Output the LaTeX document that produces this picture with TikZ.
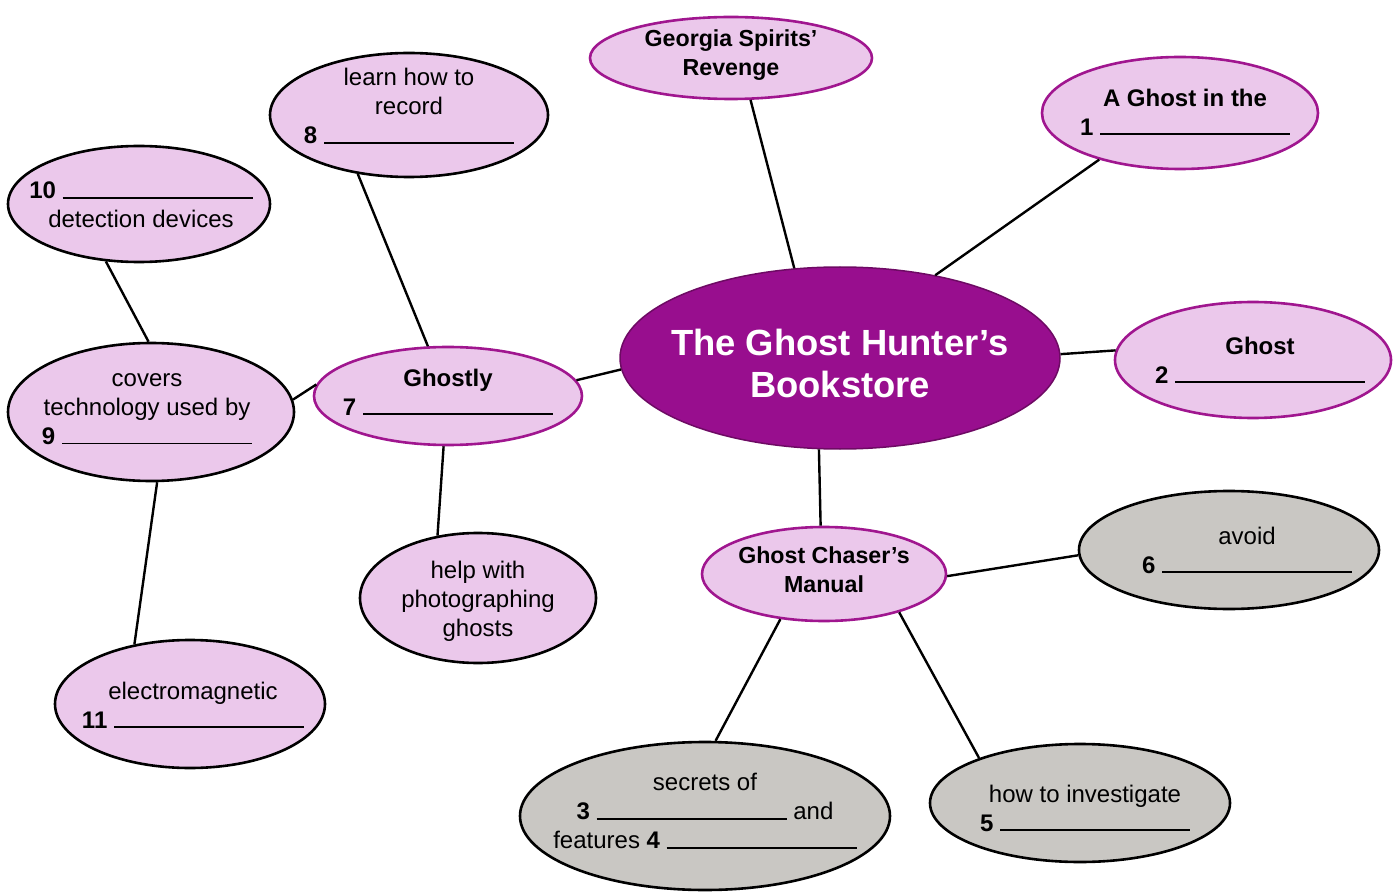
\documentclass[tikz,border=0pt]{standalone}
\usepackage{fontspec}
\setmainfont{Liberation Sans}
\usetikzlibrary{shapes.geometric, positioning}

\definecolor{bubble}{RGB}{235,200,235}
\definecolor{plum}{RGB}{160,22,143}
\definecolor{hubfill}{RGB}{152,14,142}
\definecolor{hubline}{RGB}{110,10,100}
\definecolor{stone}{RGB}{201,199,195}

\newcommand{\blank}{\rule{190pt}{1.8pt}}

\tikzset{
  bub/.style = {draw, ellipse, line width = 2.6pt, fill = bubble, inner sep = 0pt},
  topic/.style = {bub, draw = plum},
  grey/.style = {bub, fill = stone},
  txt/.style = {align = center, inner sep = 0pt, font = \fontsize{24}{29}\selectfont},
  head/.style = {txt, font = \fontsize{23.2}{29}\selectfont\bfseries},
  link/.style = {line width = 2.4pt}
}

\begin{document}
\begin{tikzpicture}[x=1pt, y=-1pt]
    \useasboundingbox (0,0) rectangle (1398,893);

    % centre
    \node[ellipse, draw = hubline, line width = 1.5pt, fill = hubfill, inner sep = 0pt,
      minimum width = 440pt, minimum height = 182pt,
      label = {[align = center, text = white, yshift = -5pt,
        font = \fontsize{36.4}{42}\selectfont\bfseries]center:{The Ghost Hunter’s\\Bookstore}}] (hub) at (840,358) {};

    % book titles
    \node[topic, minimum width = 282pt, minimum height = 82pt,
      label = {[head, yshift = 3pt]center:{Georgia Spirits’\\Revenge}}] (georgia) at (731,58) {};
    \node[topic, minimum width = 276pt, minimum height = 112pt,
      label = {[txt, xshift = 5pt, yshift = 1pt]center:{\textbf{A Ghost in the}\\\textbf{1} \blank}}] (ghostin) at (1180,113) {};
    \node[topic, minimum width = 276pt, minimum height = 116pt,
      label = {[txt, xshift = 7pt]center:{\textbf{Ghost}\\\textbf{2} \blank}}] (ghost) at (1253,360) {};
    \node[topic, minimum width = 268pt, minimum height = 98pt,
      label = {[txt, yshift = 4pt]center:{\textbf{Ghostly}\\\textbf{7} \blank}}] (ghostly) at (448,396) {};
    \node[topic, minimum width = 244pt, minimum height = 94pt,
      label = {[head, yshift = 4pt]center:{Ghost Chaser’s\\Manual}}] (chaser) at (824,574) {};

    % Ghostly branch
    \node[bub, minimum width = 278pt, minimum height = 124pt,
      label = {[txt, yshift = 9pt]center:{learn how to\\record\\\textbf{8} \blank}}] (learn) at (409,115) {};
    \node[bub, minimum width = 286pt, minimum height = 138pt,
      label = {[txt, xshift = -4pt, yshift = 3pt]center:{covers\\technology used by\\\textbf{9} \blank}}] (covers) at (151,412) {};
    \node[bub, minimum width = 262pt, minimum height = 116pt,
      label = {[txt, xshift = 2pt, yshift = -1pt]center:{\textbf{10} \blank\\detection devices}}] (detect) at (139,204) {};
    \node[bub, minimum width = 270pt, minimum height = 128pt,
      label = {[txt, xshift = 3pt, yshift = -1pt]center:{electromagnetic\\\textbf{11} \blank}}] (electro) at (190,704) {};
    \node[bub, minimum width = 236pt, minimum height = 130pt,
      label = {[txt, yshift = -3pt]center:{help with\\photographing\\ghosts}}] (help) at (478,598) {};

    % Manual branch
    \node[grey, minimum width = 300pt, minimum height = 118pt,
      label = {[txt, xshift = 18pt]center:{avoid\\\textbf{6} \blank}}] (avoid) at (1229,550) {};
    \node[grey, minimum width = 370pt, minimum height = 148pt,
      label = {[txt, yshift = 5pt]center:{secrets of\\\textbf{3} \blank{} and\\features \textbf{4} \blank}}] (secrets) at (705,816) {};
    \node[grey, minimum width = 300pt, minimum height = 118pt,
      label = {[txt, xshift = 5pt, yshift = -5pt]center:{how to investigate\\\textbf{5} \blank}}] (invest) at (1080,803) {};

    \draw[link] (hub.117.6) -- (georgia.-65.7);
    \draw[link] (hub.41.8) -- (ghostin.210.4);
    \draw[link] (hub.1.3) -- (ghost.176.7);
    \draw[link] (hub.183.2) -- (ghostly.7.1);
    \draw[link] (hub.257.7) -- (chaser.94.9);
    \draw[link] (chaser.-1.9) -- (avoid.182.3);
    \draw[link] (chaser.-134.4) -- (secrets.82.3);
    \draw[link] (chaser.-27.8) -- (invest.156.7);
    \draw[link] (ghostly.112.6) -- (learn.-131.8);
    \draw[link] (ghostly.175.3) -- (covers.5.6);
    \draw[link] (ghostly.-95.8) -- (help.123.1);
    \draw[link] (covers.92.5) -- (detect.-120.4);
    \draw[link] (covers.-85) -- (electro.133);

    \end{tikzpicture}
\end{document}
